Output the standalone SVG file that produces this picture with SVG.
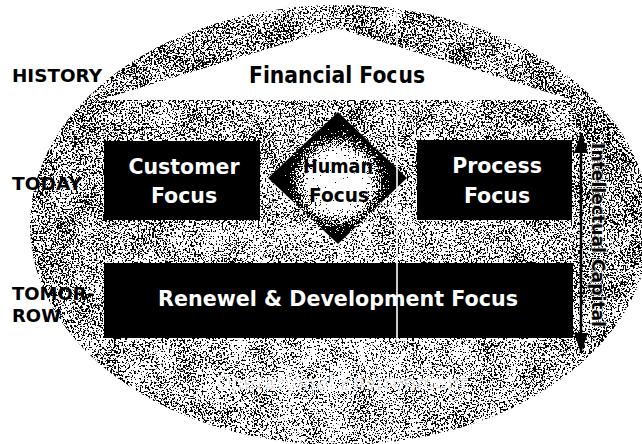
<svg xmlns="http://www.w3.org/2000/svg" width="642" height="444" viewBox="0 0 642 444">
  <style>
    .lbl { font-family: "DejaVu Sans", Verdana, sans-serif; font-weight: bold; }
    .side { font-size: 18px; fill: #000; }
    .box { fill: #000; }
    .boxtxt { font-size: 20.5px; fill: #fff; text-anchor: middle; }
  </style>
  <defs>
    <clipPath id="oval">
      <ellipse cx="340" cy="225" rx="310" ry="220"/>
    </clipPath>
    <clipPath id="rhomb">
      <polygon points="338,112 407,178 338,244 268,178"/>
    </clipPath>
    <!-- density of the dark grain: low in the lower middle, higher toward the rim -->
    <radialGradient id="density" gradientUnits="userSpaceOnUse" cx="335" cy="330" r="360">
      <stop offset="0" stop-color="#000" stop-opacity="0.22"/>
      <stop offset="0.45" stop-color="#000" stop-opacity="0.38"/>
      <stop offset="0.8" stop-color="#000" stop-opacity="0.52"/>
      <stop offset="1" stop-color="#000" stop-opacity="0.62"/>
    </radialGradient>
    <!-- diamond shading: pale grainy core fading to solid black -->
    <radialGradient id="core" gradientUnits="userSpaceOnUse" cx="338" cy="182" r="66">
      <stop offset="0" stop-color="#000" stop-opacity="0.05"/>
      <stop offset="0.4" stop-color="#000" stop-opacity="0.15"/>
      <stop offset="0.65" stop-color="#000" stop-opacity="0.6"/>
      <stop offset="0.85" stop-color="#000" stop-opacity="1"/>
      <stop offset="1" stop-color="#000" stop-opacity="1"/>
    </radialGradient>
    <!-- dithered grain: fine noise plus slow blotches, thresholded against the source alpha -->
    <filter id="grain" filterUnits="userSpaceOnUse" x="0" y="0" width="642" height="444" color-interpolation-filters="sRGB">
      <feTurbulence type="fractalNoise" baseFrequency="0.55" numOctaves="4" seed="5" result="fine"/>
      <feColorMatrix in="fine" type="luminanceToAlpha" result="lumFine"/>
      <feTurbulence type="fractalNoise" baseFrequency="0.04" numOctaves="2" seed="8" result="coarse"/>
      <feColorMatrix in="coarse" type="luminanceToAlpha" result="lumCoarse"/>
      <feComposite in="lumFine" in2="lumCoarse" operator="arithmetic" k1="0" k2="1" k3="0.22" k4="-0.11" result="lum"/>
      <feComposite in="lum" in2="SourceGraphic" operator="arithmetic" k1="0" k2="1" k3="0.14" k4="-0.095" result="mix"/>
      <feComponentTransfer in="mix">
        <feFuncA type="linear" slope="60" intercept="-30"/>
      </feComponentTransfer>
    </filter>
    <filter id="grainStrong" filterUnits="userSpaceOnUse" x="0" y="0" width="642" height="444" color-interpolation-filters="sRGB">
      <feTurbulence type="fractalNoise" baseFrequency="0.6" numOctaves="3" seed="11" result="noise"/>
      <feColorMatrix in="noise" type="luminanceToAlpha" result="lum"/>
      <feComposite in="lum" in2="SourceGraphic" operator="arithmetic" k1="0" k2="1" k3="0.5" k4="-0.25" result="mix"/>
      <feComponentTransfer in="mix">
        <feFuncA type="linear" slope="60" intercept="-30"/>
      </feComponentTransfer>
    </filter>
    <marker id="head" viewBox="0 0 20 14" refX="20" refY="7" markerWidth="20" markerHeight="14" markerUnits="userSpaceOnUse" orient="auto-start-reverse">
      <path d="M0,0 L20,7 L0,14 z" fill="#000"/>
    </marker>
  </defs>

  <rect width="642" height="444" fill="#fff"/>

  <!-- grainy oval background -->
  <g id="background">
    <ellipse cx="340" cy="225" rx="310" ry="220" fill="#fff"/>
    <g clip-path="url(#oval)">
      <rect x="0" y="0" width="642" height="444" fill="url(#density)" filter="url(#grain)"/>
    </g>
    <text class="lbl" x="342" y="390" font-size="21" fill="#fff" fill-opacity="0.85" text-anchor="middle" textLength="252" lengthAdjust="spacingAndGlyphs">Operational Environment</text>
  </g>

  <!-- roof -->
  <g id="financial">
    <polygon points="336,28 100,100 573,100" fill="#fff"/>
    <text class="lbl" x="337" y="83" font-size="22.5" fill="#000" text-anchor="middle" textLength="176" lengthAdjust="spacingAndGlyphs">Financial Focus</text>
  </g>

  <!-- row labels -->
  <g id="history"><text class="lbl side" x="12" y="82" textLength="90" lengthAdjust="spacingAndGlyphs">HISTORY</text></g>
  <g id="today"><text class="lbl side" x="12" y="190" textLength="70" lengthAdjust="spacingAndGlyphs">TODAY</text></g>
  <g id="tomorrow">
    <text class="lbl side" x="12" y="300">TOMOR-</text>
    <text class="lbl side" x="12" y="322">ROW</text>
  </g>

  <g id="customer">
    <rect class="box" x="104" y="141" width="156" height="79"/>
    <text class="lbl boxtxt" x="184" y="174">Customer</text>
    <text class="lbl boxtxt" x="184" y="203">Focus</text>
  </g>

  <g id="process">
    <rect class="box" x="417" y="140" width="155" height="80"/>
    <text class="lbl boxtxt" x="497" y="173">Process</text>
    <text class="lbl boxtxt" x="497" y="203">Focus</text>
  </g>

  <g id="human">
    <polygon points="338,112 407,178 338,244 268,178" fill="#fff"/>
    <g clip-path="url(#rhomb)">
      <rect x="260" y="105" width="155" height="145" fill="url(#core)" filter="url(#grainStrong)"/>
    </g>
    <text class="lbl" x="338" y="173" font-size="19" fill="#000" text-anchor="middle" textLength="70" lengthAdjust="spacingAndGlyphs">Human</text>
    <text class="lbl" x="339" y="202" font-size="19" fill="#000" text-anchor="middle" textLength="60" lengthAdjust="spacingAndGlyphs">Focus</text>
  </g>

  <g id="renewal">
    <rect class="box" x="104" y="263" width="469" height="75"/>
    <text class="lbl boxtxt" x="338" y="306" textLength="360" lengthAdjust="spacingAndGlyphs">Renewel &amp; Development Focus</text>
  </g>

  <!-- thin vertical divider -->
  <line x1="397" y1="4" x2="397" y2="342" stroke="#fff" stroke-width="1.6"/>

  <g id="connectors">
    <path d="M581,133 V353" stroke="#000" stroke-width="2.5" fill="none" marker-start="url(#head)" marker-end="url(#head)"/>
  </g>

  <g id="intellectual">
    <text class="lbl" transform="translate(592,235) rotate(90)" font-size="17" fill="#000" stroke="#fff" stroke-opacity="0.7" stroke-width="2" paint-order="stroke" text-anchor="middle" textLength="184" lengthAdjust="spacingAndGlyphs">Intellectual Capital</text>
  </g>
</svg>
